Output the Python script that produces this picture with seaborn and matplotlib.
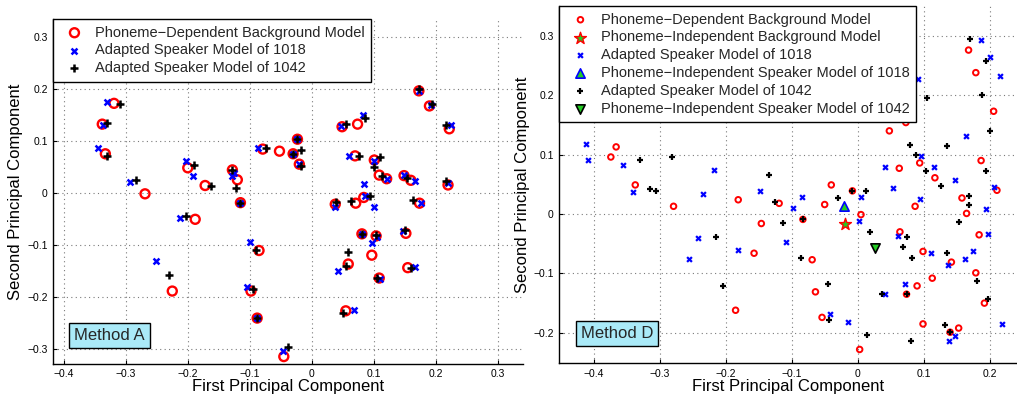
import numpy as np
import pandas as pd
import matplotlib
matplotlib.use("Agg")
import matplotlib.pyplot as plt
import seaborn as sns

# ---------------- Data: Method A (left panel) ----------------
a_bg_x = [-0.319, -0.338, -0.333, -0.269, -0.200, -0.172, -0.128, -0.120, -0.115, -0.079,
          -0.052, -0.023, -0.030, -0.020, 0.049, 0.074, 0.173, 0.190, 0.222, 0.070,
          0.101, 0.109, 0.121, 0.149, 0.160, 0.220, 0.038, 0.071, 0.084, 0.174,
          0.081, 0.104, 0.152, 0.097, 0.059, 0.155, 0.109, 0.055, -0.045, -0.188,
          -0.225, -0.085, -0.098, -0.088]
a_bg_y = [0.173, 0.133, 0.076, -0.001, 0.049, 0.015, 0.045, 0.026, -0.018, 0.085,
          0.081, 0.104, 0.076, 0.056, 0.128, 0.133, 0.197, 0.168, 0.124, 0.072,
          0.064, 0.035, 0.028, 0.034, 0.025, 0.016, -0.021, -0.019, -0.008, -0.019,
          -0.078, -0.082, -0.077, -0.119, -0.136, -0.143, -0.163, -0.226, -0.314, -0.050,
          -0.188, -0.110, -0.188, -0.240]

a_s1018_x = [-0.330, -0.336, -0.345, -0.294, -0.203, -0.192, -0.128, -0.125, -0.087, -0.023,
             -0.030, -0.020, 0.048, 0.082, 0.173, 0.192, 0.224, 0.061, 0.100, 0.121,
             0.085, 0.149, 0.166, 0.220, 0.037, 0.086, 0.101, 0.177, 0.081, 0.105,
             0.148, 0.098, 0.043, 0.167, 0.110, 0.068, -0.047, -0.115, -0.212, -0.252,
             -0.099, -0.105, -0.088]
a_s1018_y = [0.176, 0.131, 0.088, 0.021, 0.063, 0.034, 0.034, 0.040, 0.088, 0.104,
             0.076, 0.056, 0.129, 0.151, 0.197, 0.169, 0.131, 0.071, 0.063, 0.028,
             0.017, 0.035, 0.024, 0.019, -0.026, -0.006, -0.026, -0.018, -0.078, -0.085,
             -0.073, -0.096, -0.149, -0.141, -0.165, -0.224, -0.303, -0.018, -0.047, -0.130,
             -0.094, -0.180, -0.240]

a_s1042_x = [-0.309, -0.331, -0.330, -0.283, -0.190, -0.162, -0.128, -0.122, -0.073, -0.023,
             -0.030, -0.017, -0.018, 0.056, 0.086, 0.173, 0.194, 0.217, 0.076, 0.110,
             0.100, 0.114, 0.154, 0.216, 0.040, 0.063, 0.094, 0.163, 0.081, 0.104,
             0.151, 0.059, 0.055, 0.161, 0.106, 0.051, -0.038, -0.115, -0.203, -0.231,
             -0.090, -0.094, -0.088]
a_s1042_y = [0.171, 0.136, 0.072, 0.026, 0.055, 0.015, 0.045, 0.011, 0.088, 0.104,
             0.076, 0.083, 0.053, 0.134, 0.145, 0.200, 0.171, 0.131, 0.072, 0.070,
             0.051, 0.033, 0.030, 0.024, -0.017, -0.014, -0.005, -0.013, -0.078, -0.080,
             -0.071, -0.113, -0.140, -0.143, -0.162, -0.231, -0.295, -0.018, -0.044, -0.158,
             -0.110, -0.185, -0.240]

# ---------------- Data: Method D (right panel) ----------------
d_bg_x = [-0.374, -0.366, -0.337, -0.279, -0.181, -0.146, -0.157, -0.185, 0.168, 0.179,
          0.206, 0.073, 0.048, 0.094, 0.187, 0.063, 0.117, -0.040, 0.211, -0.008,
          0.158, -0.119, -0.050, -0.083, 0.005, 0.087, 0.165, 0.184, 0.064, 0.099,
          0.142, -0.069, 0.179, 0.113, -0.064, 0.090, 0.074, 0.192, -0.054, 0.099,
          0.153, 0.140, 0.003]
d_bg_y = [0.096, 0.113, 0.049, 0.013, 0.024, -0.016, -0.066, -0.162, 0.276, 0.238,
          0.173, 0.154, 0.140, 0.086, 0.090, 0.077, 0.061, 0.049, 0.040, 0.039,
          0.027, 0.018, 0.016, -0.009, -0.001, 0.013, 0.001, -0.035, -0.030, -0.063,
          -0.081, -0.077, -0.099, -0.108, -0.131, -0.121, -0.135, -0.150, -0.174, -0.185,
          -0.192, -0.199, -0.228]

d_s1018_x = [-0.411, -0.408, -0.355, -0.340, -0.218, -0.234, -0.148, -0.242, -0.256, -0.181,
             0.187, 0.200, 0.215, 0.091, 0.164, 0.096, 0.116, 0.042, 0.148, 0.054,
             0.206, 0.005, -0.085, -0.098, -0.108, 0.002, 0.095, 0.194, 0.198, 0.061,
             0.111, 0.174, 0.163, 0.137, 0.071, 0.042, -0.042, -0.015, 0.148, 0.138,
             0.219]
d_s1018_y = [0.118, 0.091, 0.083, 0.037, 0.074, 0.033, 0.039, -0.040, -0.075, -0.061,
             0.293, 0.264, 0.232, 0.227, 0.132, 0.098, 0.080, 0.079, 0.057, 0.043,
             0.046, 0.029, 0.028, 0.010, -0.047, -0.011, 0.025, 0.009, -0.033, -0.037,
             -0.066, -0.062, -0.075, -0.086, -0.117, -0.134, -0.168, -0.182, -0.205, -0.213,
             -0.185]

d_s1042_x = [-0.330, -0.314, -0.305, -0.281, -0.134, -0.214, -0.204, 0.170, 0.195, 0.189,
             0.105, 0.201, 0.079, 0.135, 0.088, 0.103, 0.195, 0.127, -0.008, 0.013,
             -0.030, 0.168, -0.126, 0.169, 0.153, -0.113, -0.083, 0.018, 0.075, 0.069,
             0.136, 0.083, -0.086, 0.181, -0.045, 0.037, 0.074, 0.198, -0.043, 0.133,
             0.140, 0.014, 0.081]
d_s1042_y = [0.091, 0.042, 0.039, 0.096, 0.066, -0.038, -0.121, 0.294, 0.258, 0.201,
             0.196, 0.140, 0.116, 0.114, 0.100, 0.072, 0.073, 0.048, 0.039, 0.039,
             0.027, 0.030, 0.020, 0.016, -0.014, -0.015, -0.009, -0.030, -0.039, -0.056,
             -0.066, -0.074, -0.074, -0.112, -0.118, -0.134, -0.135, -0.143, -0.179, -0.187,
             -0.199, -0.203, -0.213]

d_pi_bg = (-0.019, -0.016)
d_pi_1018 = (-0.021, 0.014)
d_pi_1042 = (0.026, -0.057)

labels_a = ["Phoneme\u2212Dependent Background Model",
            "Adapted Speaker Model of 1018",
            "Adapted Speaker Model of 1042"]
labels_d = ["Phoneme\u2212Dependent Background Model",
            "Phoneme\u2212Independent Background Model",
            "Adapted Speaker Model of 1018",
            "Phoneme\u2212Independent Speaker Model of 1018",
            "Adapted Speaker Model of 1042",
            "Phoneme\u2212Independent Speaker Model of 1042"]

# ---------------- Style ----------------
sns.set_theme(style="white")
plt.rcParams["font.family"] = ["Liberation Sans", "DejaVu Sans"]
plt.rcParams["axes.unicode_minus"] = True

fig = plt.figure(figsize=(10.17, 3.97), dpi=100)
axA = fig.add_axes([53.3 / 1017, (397 - 363.7) / 397, 469.7 / 1017, 344.7 / 397])
axD = fig.add_axes([559.3 / 1017, (397 - 363.0) / 397, 457.7 / 1017, 357.0 / 397])

def style_axes(ax, xlim, ylim, xticks, yticks):
    ax.set_xlim(*xlim)
    ax.set_ylim(*ylim)
    ax.set_xticks(xticks)
    ax.set_yticks(yticks)
    ax.set_xticklabels([("%g" % t).replace("-", "\u2212") for t in xticks])
    ax.set_yticklabels([("%g" % t).replace("-", "\u2212") for t in yticks])
    ax.grid(True, color="#7a7a7a", linestyle=(0, (1, 3)), linewidth=0.8)
    for s in ["top", "right"]:
        ax.spines[s].set_visible(False)
    for s in ["left", "bottom"]:
        ax.spines[s].set_color("black")
        ax.spines[s].set_linewidth(1.0)
    ax.tick_params(axis="both", direction="in", length=3, width=0.8,
                   colors="black", labelsize=7.5, pad=4, left=True, bottom=True)
    ax.set_xlabel("First Principal Component", fontsize=12, color="black")
    ax.set_ylabel("Second Principal Component", fontsize=12, color="black")
    ax.set_axisbelow(True)

# ---------------- Left panel ----------------
sns.scatterplot(x=a_bg_x, y=a_bg_y, ax=axA, marker="o", s=42, facecolors="none",
                edgecolor="red", linewidth=1.7, label=labels_a[0], zorder=3)
sns.scatterplot(x=a_s1018_x, y=a_s1018_y, ax=axA, marker="x", s=18, color="blue",
                linewidth=1.8, label=labels_a[1], zorder=4)
sns.scatterplot(x=a_s1042_x, y=a_s1042_y, ax=axA, marker="+", s=32, color="black",
                linewidth=1.8, label=labels_a[2], zorder=5)
style_axes(axA, (-0.417, 0.341), (-0.3277, 0.3352),
           [-0.4, -0.3, -0.2, -0.1, 0, 0.1, 0.2, 0.3],
           [-0.3, -0.2, -0.1, 0, 0.1, 0.2, 0.3])
axA.yaxis.set_label_coords(-30 / 469.7, 0.5)
axA.xaxis.set_label_coords(0.5, -15 / 344.7)

# ---------------- Right panel ----------------
sns.scatterplot(x=d_bg_x, y=d_bg_y, ax=axD, marker="o", s=16, facecolors="none",
                edgecolor="red", linewidth=1.4, label=labels_d[0], zorder=3)
sns.scatterplot(x=[d_pi_bg[0]], y=[d_pi_bg[1]], ax=axD, marker="*", s=80,
                facecolor="#22cc22", edgecolor="red", linewidth=1.0,
                label=labels_d[1], zorder=6)
sns.scatterplot(x=d_s1018_x, y=d_s1018_y, ax=axD, marker="x", s=12, color="blue",
                linewidth=1.6, label=labels_d[2], zorder=4)
sns.scatterplot(x=[d_pi_1018[0]], y=[d_pi_1018[1]], ax=axD, marker="^", s=45,
                facecolor="#22cc22", edgecolor="blue", linewidth=1.2,
                label=labels_d[3], zorder=6)
sns.scatterplot(x=d_s1042_x, y=d_s1042_y, ax=axD, marker="+", s=24, color="black",
                linewidth=1.6, label=labels_d[4], zorder=5)
sns.scatterplot(x=[d_pi_1042[0]], y=[d_pi_1042[1]], ax=axD, marker="v", s=45,
                facecolor="#22cc22", edgecolor="black", linewidth=1.2,
                label=labels_d[5], zorder=6)
style_axes(axD, (-0.4521, 0.2414), (-0.2508, 0.3502),
           [-0.4, -0.3, -0.2, -0.1, 0, 0.1, 0.2],
           [-0.2, -0.1, 0, 0.1, 0.2, 0.3])
axD.yaxis.set_label_coords(-29 / 457.7, 0.5)
axD.xaxis.set_label_coords(0.5, -16 / 357.0)

for ax in (axA, axD):
    leg = ax.legend(loc="upper left", bbox_to_anchor=(0, 1), borderaxespad=0,
                    frameon=True, fancybox=False, framealpha=1, edgecolor="black",
                    fontsize=10.5, handlelength=2.0, handletextpad=0.4,
                    borderpad=0.45, labelspacing=0.26, scatterpoints=1)
    leg.get_frame().set_linewidth(1.0)
    leg.set_zorder(10)

# Method boxes
box = dict(boxstyle="square,pad=0.3", facecolor="#aaeaf8", edgecolor="black", linewidth=1.0)
axA.text(-0.326, -0.273, "Method A", fontsize=12, ha="center", va="center",
         bbox=box, zorder=11)
axD.text(-0.365, -0.201, "Method D", fontsize=12, ha="center", va="center",
         bbox=box, zorder=11)

fig.savefig("out.png", dpi=100)
